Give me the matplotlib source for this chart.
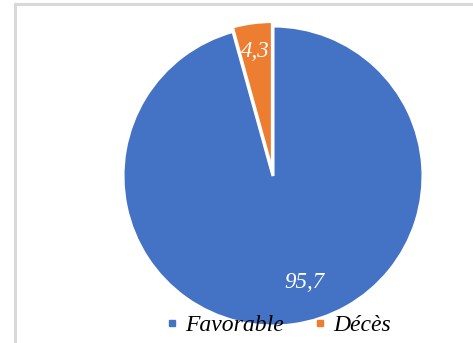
import matplotlib.pyplot as plt
from matplotlib.lines import Line2D

# Outcome shares (%)
categories = ["Favorable", "Décès"]
values = [95.7, 4.3]
colors = ["#4472C4", "#ED7D31"]

W, H = 473, 343
fig = plt.figure(figsize=(W / 100, H / 100), dpi=100)

# pie centre and radius in pixels
cx, cy, r = 273, 176, 150
lim = 1.1
side = r * lim
ax = fig.add_axes([(cx - side) / W, 1 - (cy + side) / H, 2 * side / W, 2 * side / H])

wedges, _ = ax.pie(
    values,
    colors=colors,
    startangle=90,
    counterclock=False,
    explode=[0, 0.03],
    radius=1.0,
    wedgeprops=dict(edgecolor="white", linewidth=2.2),
)
ax.set_xlim(-lim, lim)
ax.set_ylim(-lim, lim)
ax.set_aspect("equal")
ax.axis("off")

label_pos = [(0.21, -0.71), (-0.12, 0.83)]
for v, (x, y) in zip(values, label_pos):
    ax.text(x, y, f"{v:.1f}".replace(".", ","), ha="center", va="center",
            color="white", fontsize=16.5, style="italic", family="Liberation Serif")

# light gray frame around the chart area
for xs, ys in [([14.5 / W, 1.0], [1 - 3.5 / H] * 2), ([14.5 / W] * 2, [0.0, 1 - 3.5 / H])]:
    fig.add_artist(Line2D(xs, ys, color="#D9D9D9", linewidth=2.2))

handles = [Line2D([], [], marker="s", linestyle="none", markersize=4.5,
                  markerfacecolor=c, markeredgecolor=c) for c in colors]
fig.legend(handles, categories, loc="center", bbox_to_anchor=(279 / W, (H - 325) / H),
           ncol=2, frameon=False, handlelength=0.4, handletextpad=0.35,
           columnspacing=1.35, borderpad=0,
           prop=dict(family="Liberation Serif", style="italic", size=17))

fig.savefig("out.png", dpi=100)
